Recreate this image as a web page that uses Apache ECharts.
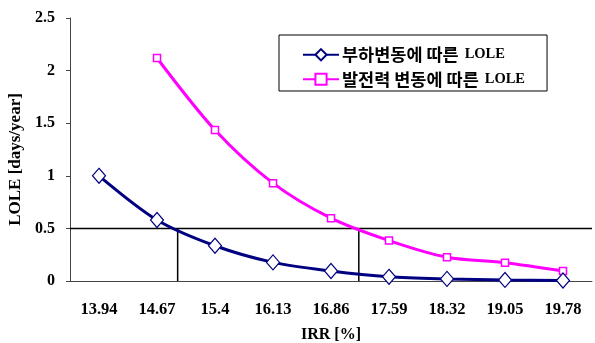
<!DOCTYPE html>
<html><head><meta charset="utf-8">
<script src="https://cdn.jsdelivr.net/npm/echarts@6/dist/echarts.min.js"></script>
<style>html,body{margin:0;padding:0;background:#fff}#c{width:595px;height:343px}</style>
</head><body><div id="c"></div>
<script>
const categories = ['13.94','14.67','15.4','16.13','16.86','17.59','18.32','19.05','19.78'];
const loadLOLE = [1.0, 0.58, 0.335, 0.177, 0.095, 0.04, 0.02, 0.01, 0.005];
const genLOLE = [null, 2.12, 1.435, 0.93, 0.597, 0.384, 0.226, 0.174, 0.095];
const yTicks = [0, 0.5, 1, 1.5, 2, 2.5];
const threshold = 0.5;
const crossIRR = [14.93, 17.21];
const irrStep = 0.73;
const irrFirst = 13.94, irrLast = 19.78;
const seriesNames = ['부하변동에 따른 LOLE', '발전력 변동에 따른 LOLE'];

const serif = '"Liberation Serif","Times New Roman","Noto Sans CJK KR",serif';
const korean = '"Noto Sans CJK KR",sans-serif';

const chart = echarts.init(document.getElementById('c'));
chart.setOption({
  animation: false,
  backgroundColor: '#fff',
  grid: {left: 70, right: 3, top: 18, bottom: 62, containLabel: false, outerBoundsMode: 'none'},
  legend: {
    orient: 'vertical', left: 279, top: 35,
    padding: [11, 22, 3, 23], itemGap: 7,
    borderColor: '#000', borderWidth: 1,
    itemWidth: 36, itemHeight: 14,
    formatter: function (name) {
      const i = name.lastIndexOf(' LOLE');
      return '{k|' + name.slice(0, i) + '}{l|LOLE}';
    },
    textStyle: {
      color: '#000', padding: [0, 0, 0, -2],
      rich: {
        k: {fontFamily: korean, fontWeight: 'bold', fontSize: 17.5, color: '#000', lineHeight: 20},
        l: {fontFamily: serif, fontWeight: 'bold', fontSize: 14.5, color: '#000', lineHeight: 20, padding: [0, 0, 0, 6]}
      }
    },
    data: seriesNames
  },
  xAxis: [{
    type: 'category', data: categories, boundaryGap: true,
    axisLine: {lineStyle: {color: '#444', width: 1}},
    axisTick: {inside: true, length: 5, lineStyle: {color: '#444'}},
    axisLabel: {fontFamily: serif, fontWeight: 'bold', fontSize: 16.5, color: '#000', margin: 20},
    name: 'IRR [%]', nameLocation: 'middle', nameGap: 46,
    nameTextStyle: {fontFamily: serif, fontWeight: 'bold', fontSize: 16, color: '#000'}
  }, {
    type: 'value', show: false,
    min: irrFirst - irrStep / 2, max: irrLast + irrStep / 2
  }],
  yAxis: {
    type: 'value', min: yTicks[0], max: yTicks[yTicks.length - 1], interval: 0.5,
    splitLine: {show: false},
    axisLine: {show: true, lineStyle: {color: '#444', width: 1}},
    axisTick: {show: true, length: 4, lineStyle: {color: '#444'}},
    axisLabel: {fontFamily: serif, fontWeight: 'bold', fontSize: 16, color: '#000', margin: 15},
    name: 'LOLE [days/year]', nameLocation: 'middle', nameGap: 46, nameRotate: 90,
    nameTextStyle: {fontFamily: serif, fontWeight: 'bold', fontSize: 17, color: '#000', padding: [0, 20, 0, 0]}
  },
  series: [
    {
      name: 'threshold', type: 'line', xAxisIndex: 1, silent: true, symbol: 'none',
      lineStyle: {color: '#000', width: 1.5},
      data: [[irrFirst - irrStep / 2, threshold], [irrLast + irrStep / 2, threshold]]
    },
    {
      name: 'cross1', type: 'line', xAxisIndex: 1, silent: true, symbol: 'none',
      lineStyle: {color: '#000', width: 1.5},
      data: [[crossIRR[0], 0], [crossIRR[0], threshold]]
    },
    {
      name: 'cross2', type: 'line', xAxisIndex: 1, silent: true, symbol: 'none',
      lineStyle: {color: '#000', width: 1.5},
      data: [[crossIRR[1], 0], [crossIRR[1], threshold]]
    },
    {
      name: seriesNames[1], type: 'line', smooth: 0.3,
      data: genLOLE, symbol: 'rect', symbolSize: 7,
      lineStyle: {color: '#FF00FF', width: 3},
      itemStyle: {color: '#fff', borderColor: '#FF00FF', borderWidth: 1.5}
    },
    {
      name: seriesNames[0], type: 'line', smooth: 0.3,
      data: loadLOLE, symbol: 'diamond', symbolSize: [13, 15],
      lineStyle: {color: '#000080', width: 3},
      itemStyle: {color: '#fff', borderColor: '#000080', borderWidth: 1.2}
    }
  ]
});
</script></body></html>
